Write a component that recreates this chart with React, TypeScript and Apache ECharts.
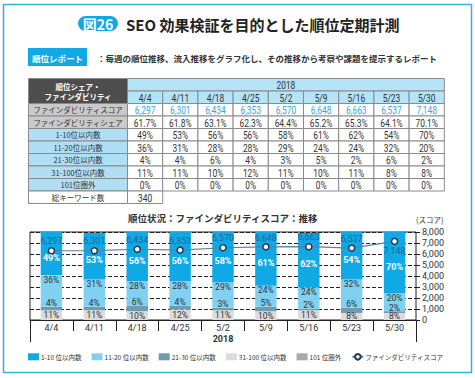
import React, { useEffect, useRef } from 'react';
import * as echarts from 'echarts';

const dates = ['4/4', '4/11', '4/18', '4/25', '5/2', '5/9', '5/16', '5/23', '5/30'];
const yearLabel = '2018';
const scores = [6297, 6301, 6434, 6353, 6570, 6648, 6663, 6537, 7148];
const shares = [61.7, 61.8, 63.1, 62.3, 64.4, 65.2, 65.3, 64.1, 70.1];
const rank1to10 = [49, 53, 56, 56, 58, 61, 62, 54, 70];
const rank11to20 = [36, 31, 28, 28, 29, 24, 24, 32, 20];
const rank21to30 = [4, 4, 6, 4, 3, 5, 2, 6, 2];
const rank31to100 = [11, 11, 10, 12, 11, 10, 11, 8, 8];
const rank101out = [0, 0, 0, 0, 0, 0, 0, 0, 0];
const totalKeywords = 340;

const tableRowLabels = [
  'ファインダビリティスコア',
  'ファインダビリティシェア',
  '1-10位以内数',
  '11-20位以内数',
  '21-30位以内数',
  '31-100位以内数',
  '101位圏外',
];
const legendNames = ['1-10 位以内数', '11-20 位以内数', '21-30 位以内数', '31-100 位以内数', '101 位圏外', 'ファインダビリティスコア'];

const headingBadge = '図26';
const headingText = 'SEO 効果検証を目的とした順位定期計測';
const reportBadge = '順位レポート';
const reportText = '：毎週の順位推移、流入推移をグラフ化し、その推移から考察や課題を提示するレポート';
const chartTitle = '順位状況：ファインダビリティスコア：推移';
const tableHeader = '順位シェア・\nファインダビリティ';
const totalLabel = '総キーワード数';
const scoreAxisName = '(スコア)';

const JP = '"Noto Sans CJK JP", sans-serif';
const NUM = '"Roboto", "Liberation Sans", sans-serif';
const C1 = '#10a9e6';
const C2 = '#80d0f2';
const C3 = '#6f9bb0';
const C4 = '#dcdcdc';
const C5 = '#a8a8a8';
const FRAME = '#33b4d8';
const CELL_BORDER = '#8a8a8a';

function gText(x: number, y: number, text: string, font: string, fill = '#333', extra: any = {}, scaleX = 1) {
  return {
    type: 'text',
    silent: true,
    z: 20,
    x,
    y,
    scaleX,
    style: {
      x: 0,
      y: 0,
      text,
      font,
      fill,
      align: 'center',
      textAlign: 'center',
      verticalAlign: 'middle',
      textVerticalAlign: 'middle',
      ...extra,
    },
  };
}

function gRect(x: number, y: number, w: number, h: number, fill: string, stroke = CELL_BORDER, r: any = 0) {
  return {
    type: 'rect',
    silent: true,
    z: 10,
    shape: { x, y, width: w, height: h, r },
    style: { fill, stroke, lineWidth: stroke === 'none' ? 0 : 1 },
  };
}

function buildTable() {
  const tx = 28.5;
  const ty = 78.5;
  const lw = 99;
  const cw = 35.2;
  const rh = 12.5;
  const sx = 0.84;
  const numFont = `10px ${NUM}`;
  const els: any[] = [];
  els.push(gRect(tx, ty, lw, rh * 2, '#4d4d4d'));
  els.push(gText(tx + lw / 2, ty + rh, tableHeader, `bold 7.5px ${JP}`, '#fff', { lineHeight: 10 }));
  els.push(gRect(tx + lw, ty, cw * dates.length, rh, '#b5e3f7'));
  els.push(gText(tx + lw + (cw * dates.length) / 2, ty + rh / 2 + 0.5, yearLabel, numFont, '#333', {}, sx));
  dates.forEach((d, i) => {
    els.push(gRect(tx + lw + i * cw, ty + rh, cw, rh, '#b5e3f7'));
    els.push(gText(tx + lw + i * cw + cw / 2, ty + rh * 1.5 + 0.5, d, numFont, '#333', {}, sx));
  });
  const pct = (v: number) => `${v}%`;
  const rowValues = [
    scores.map((v) => v.toLocaleString('en-US')),
    shares.map((v) => `${v.toFixed(1)}%`),
    rank1to10.map(pct),
    rank11to20.map(pct),
    rank21to30.map(pct),
    rank31to100.map(pct),
    rank101out.map(pct),
  ];
  tableRowLabels.forEach((label, r) => {
    const y = ty + rh * (2 + r);
    els.push(gRect(tx, y, lw, rh, r < 2 ? '#c9c9c9' : '#b0def4'));
    els.push(gText(tx + lw / 2, y + rh / 2, label, `7.5px ${JP}`, '#333'));
    rowValues[r].forEach((v, i) => {
      els.push(gRect(tx + lw + i * cw, y, cw, rh, '#ffffff'));
      els.push(gText(tx + lw + i * cw + cw / 2, y + rh / 2 + 0.5, v, numFont, r === 0 ? '#37a6dc' : '#333', {}, sx));
    });
  });
  const yt = ty + rh * (2 + tableRowLabels.length);
  els.push(gRect(tx, yt, lw, rh, '#ffffff'));
  els.push(gText(tx + lw / 2, yt + rh / 2, totalLabel, `7.5px ${JP}`, '#333'));
  els.push(gRect(tx + lw, yt, cw, rh, '#ffffff'));
  els.push(gText(tx + lw + cw / 2, yt + rh / 2 + 0.5, String(totalKeywords), numFont, '#333', {}, sx));
  return els;
}

function buildOption(): any {
  const graphic: any[] = [
    {
      type: 'rect',
      silent: true,
      z: 0,
      shape: { x: 3.5, y: 4.5, width: 468, height: 368 },
      style: { fill: 'none', stroke: FRAME, lineWidth: 1.5 },
    },
    gRect(78, 16, 40, 15, C1, 'none', 7.5),
    gText(98, 24, headingBadge, `bold 14px ${JP}`, '#fff'),
    gText(126, 24, headingText, `bold 15px ${JP}`, '#222', { align: 'left', textAlign: 'left' }),
    gRect(28, 48, 59, 18, C1, 'none'),
    gText(57.5, 57.5, reportBadge, `bold 8.5px ${JP}`, '#fff'),
    gText(97, 57.5, reportText, `bold 8.5px ${JP}`, '#333', { align: 'left', textAlign: 'left' }),
    ...buildTable(),
  ];

  const barLabelBase = { show: true, fontFamily: NUM, fontSize: 8.5, color: '#333', formatter: '{c}%' };
  const barBase = { type: 'bar', stack: 'rank', xAxisIndex: 0, yAxisIndex: 1, barWidth: '50%' };

  return {
    animation: false,
    backgroundColor: '#fff',
    textStyle: { fontFamily: JP },
    title: {
      text: chartTitle,
      left: 128,
      top: 213,
      padding: 0,
      textStyle: { fontFamily: JP, fontSize: 9.5, fontWeight: 'bold', color: '#333' },
    },
    graphic,
    legend: {
      left: 28,
      top: 353,
      padding: 0,
      itemWidth: 11,
      itemHeight: 7,
      itemGap: 10,
      textStyle: { fontFamily: JP, fontSize: 6.5, color: '#333', padding: [0, 0, 0, -3] },
      data: legendNames.map((n, i) => (i < 5 ? { name: n, icon: 'rect' } : { name: n })),
    },
    grid: {
      left: 30,
      right: 59,
      top: 232,
      bottom: 58,
      show: true,
      borderColor: '#222',
      borderWidth: 1,
      backgroundColor: 'transparent',
    },
    xAxis: [
      {
        type: 'category',
        data: dates,
        position: 'bottom',
        axisLine: { show: true, lineStyle: { color: '#222', width: 1 } },
        axisTick: { show: true, interval: 0, length: 11, lineStyle: { color: '#222' } },
        axisLabel: { fontFamily: NUM, fontSize: 9, color: '#333', margin: 3, interval: 0 },
      },
      {
        type: 'category',
        data: [yearLabel],
        position: 'bottom',
        axisLine: { show: false },
        axisTick: { show: true, length: 22, lineStyle: { color: '#222' } },
        axisLabel: { fontFamily: NUM, fontSize: 9, fontWeight: 'bold', color: '#333', margin: 14 },
      },
    ],
    yAxis: [
      {
        type: 'value',
        position: 'right',
        min: 0,
        max: 8000,
        interval: 1000,
        name: scoreAxisName,
        nameLocation: 'end',
        nameGap: 9,
        nameTextStyle: { fontFamily: JP, fontSize: 7.5, color: '#333', align: 'left', padding: [0, 0, 0, 0] },
        axisLine: { show: false },
        axisTick: { show: true, length: 5, lineStyle: { color: '#222', type: [4, 2] } },
        axisLabel: {
          fontFamily: NUM,
          fontSize: 9,
          color: '#333',
          margin: 6,
          formatter: (v: number) => v.toLocaleString('en-US'),
        },
        splitLine: { show: true, lineStyle: { color: '#222', width: 1, type: [4, 2] } },
      },
      {
        type: 'value',
        min: 0,
        max: 100,
        show: false,
        splitLine: { show: false },
      },
    ],
    series: [
      { ...barBase, name: legendNames[4], data: rank101out, itemStyle: { color: C5 }, label: { show: false } },
      { ...barBase, name: legendNames[3], data: rank31to100, itemStyle: { color: C4 }, label: { ...barLabelBase, position: 'inside' } },
      { ...barBase, name: legendNames[2], data: rank21to30, itemStyle: { color: C3 }, label: { ...barLabelBase, position: 'top', distance: -1 } },
      { ...barBase, name: legendNames[1], data: rank11to20, itemStyle: { color: C2 }, label: { ...barLabelBase, position: 'insideTop', distance: 0 } },
      {
        ...barBase,
        name: legendNames[0],
        data: rank1to10,
        itemStyle: { color: C1 },
        label: { ...barLabelBase, fontSize: 9, position: 'inside', offset: [0, 4], color: '#fff', fontWeight: 'bold' },
      },
      {
        type: 'line',
        name: legendNames[5],
        xAxisIndex: 0,
        yAxisIndex: 0,
        z: 10,
        data: scores.map((v, i) => (i === scores.length - 1 ? { value: v, label: { position: 'bottom', distance: 1 } } : v)),
        symbol: 'circle',
        symbolSize: 6,
        itemStyle: { color: '#ffffff', borderColor: '#1e3a56', borderWidth: 1.5 },
        lineStyle: { color: '#5f7f98', width: 1.2 },
        label: {
          show: true,
          position: 'top',
          distance: 1,
          fontFamily: NUM,
          fontSize: 9,
          color: '#1d6697',
          formatter: (p: any) => Number(p.value).toLocaleString('en-US'),
        },
      },
    ],
  };
}

export default function App() {
  const ref = useRef<HTMLDivElement>(null);
  useEffect(() => {
    if (!ref.current) return;
    const chart = echarts.init(ref.current, null, { renderer: 'svg' });
    chart.setOption(buildOption());
    return () => chart.dispose();
  }, []);
  return (
    <div
      ref={ref}
      style={{ position: 'fixed', left: 0, top: 0, width: 475, height: 378, background: '#fff' }}
    />
  );
}
